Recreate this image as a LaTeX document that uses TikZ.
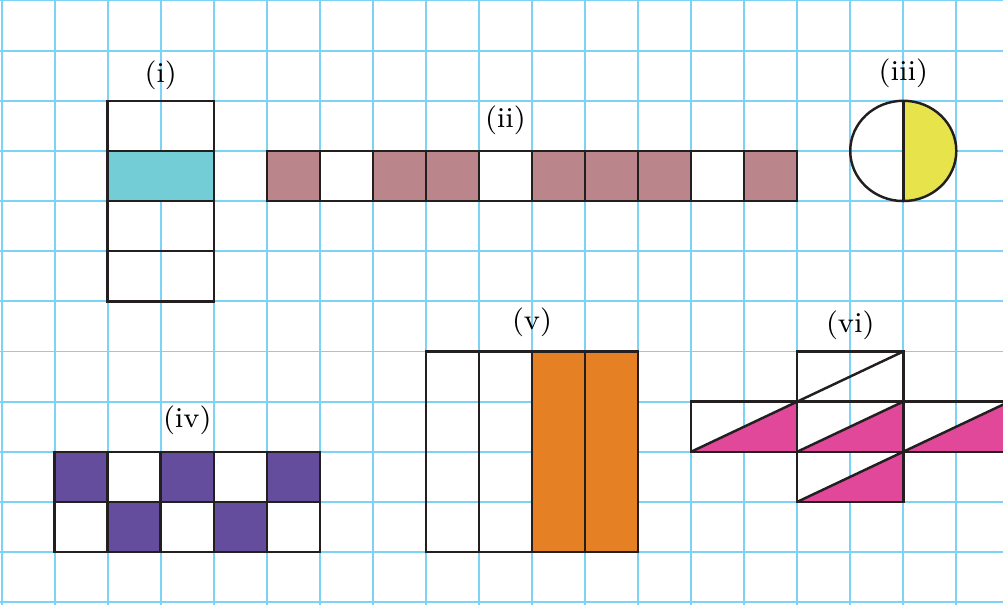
\documentclass[tikz,border=0pt]{standalone}
\usepackage{xcolor}
\usepackage{tikz}

\definecolor{gridblue}{RGB}{125,211,245}
\definecolor{tealfill}{RGB}{115,205,215}
\definecolor{mauvefill}{RGB}{187,133,140}
\definecolor{yellowfill}{RGB}{230,227,75}
\definecolor{purplefill}{RGB}{101,77,157}
\definecolor{orangefill}{RGB}{230,128,36}
\definecolor{pinkfill}{RGB}{225,72,153}
\definecolor{edge}{RGB}{35,31,32}

\begin{document}
\begin{tikzpicture}[x=0.5305cm, y=0.5015cm, every node/.style={font=\fontsize{8.2}{10}\selectfont, inner sep=0pt}, shape line/.style={draw=edge, line width=0.7pt}]
\useasboundingbox (-0.03,-0.05) rectangle (18.88,12.01);
\clip (-0.03,-0.05) rectangle (18.88,12.01);
% squared paper
\foreach \gx in {0,...,18} \draw[gridblue, line width=0.55pt] (\gx,-0.05) -- (\gx,12.01);
\foreach \gy in {0,...,12} \draw[gridblue, line width=0.55pt] (-0.03,\gy) -- (18.88,\gy);
% (i)
\node (li) at (3,10.5) {(i)};
\fill[tealfill] (2,8) rectangle (4,9);
\foreach \r in {6,...,9} \draw[shape line] (2,\r) rectangle (4,\r+1);
% (ii)
\node (lii) at (9.5,9.62) {(ii)};
\foreach \c in {0,2,3,5,6,7,9} \fill[mauvefill] (5+\c,8) rectangle (6+\c,9);
\foreach \c in {0,...,9} \draw[shape line] (5+\c,8) rectangle (6+\c,9);
% (iii)
\node (liii) at (17,10.55) {(iii)};
\fill[yellowfill] (17,10) arc (90:-90:1) -- cycle;
\draw[shape line] (17,9) circle (1);
\draw[shape line] (17,10) -- (17,8);
% (iv)
\node (liv) at (3.5,3.63) {(iv)};
\foreach \c in {0,2,4} \fill[purplefill] (1+\c,2) rectangle (2+\c,3);
\foreach \c in {1,3} \fill[purplefill] (1+\c,1) rectangle (2+\c,2);
\foreach \c in {0,...,4} {
  \draw[shape line] (1+\c,2) rectangle (2+\c,3);
  \draw[shape line] (1+\c,1) rectangle (2+\c,2);
}
% (v)
\node (lv) at (10,5.58) {(v)};
\fill[orangefill] (10,1) rectangle (12,5);
\foreach \c in {8,...,11} \draw[shape line] (\c,1) rectangle (\c+1,5);
% (vi)
\node (lvi) at (16,5.52) {(vi)};
\foreach \bx/\by in {13/3,15/3,17/3,15/2} \fill[pinkfill] (\bx,\by) -- (\bx+2,\by) -- (\bx+2,\by+1) -- cycle;
\foreach \bx/\by in {15/4,13/3,15/3,17/3,15/2} {
  \draw[shape line] (\bx,\by) rectangle (\bx+2,\by+1);
  \draw[shape line] (\bx,\by) -- (\bx+2,\by+1);
}
\end{tikzpicture}
\end{document}
